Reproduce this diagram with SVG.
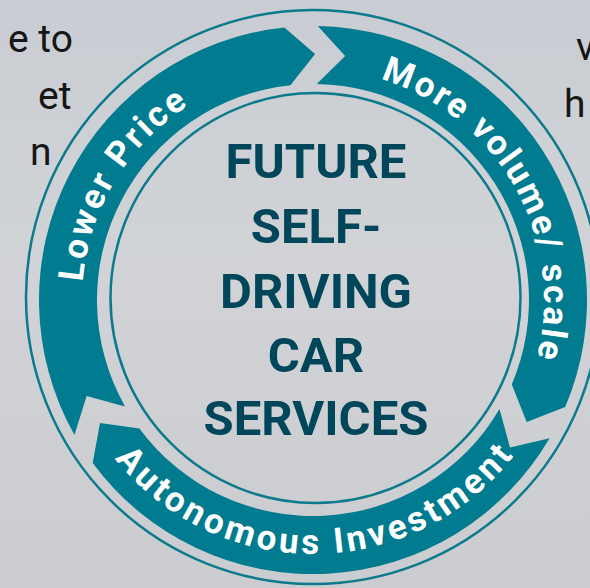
<svg xmlns="http://www.w3.org/2000/svg" width="590" height="588" viewBox="0 0 590 588">
  <defs>
    <linearGradient id="bg" x1="0" y1="0" x2="0" y2="1">
      <stop offset="0" stop-color="#c9cdd3"/>
      <stop offset="0.45" stop-color="#d1d3d6"/>
      <stop offset="1" stop-color="#cacccf"/>
    </linearGradient>
    <path id="tp-lower" d="M 82.7,281.9 A 231 231 0 0 1 253.2,76.9"/>
    <path id="tp-more" d="M 380.5,79.1 A 231 231 0 0 1 513.1,415.5"/>
    <path id="tp-auto" d="M 114.8,458.8 A 254 254 0 0 0 533,427"/>
  </defs>
  <style>
    .ring { fill: none; stroke: #0a7a8c; stroke-width: 2.5; }
    .band { fill: #007b8f; }
    .arc-label { font-family: Roboto, "Liberation Sans", sans-serif; font-weight: 700; font-size: 35px; fill: #ffffff; }
    .center-label { font-family: Roboto, "Liberation Sans", sans-serif; font-weight: 700; font-size: 49px; fill: #00465a; text-anchor: middle; }
    .side { font-family: Roboto, "Liberation Sans", sans-serif; font-weight: 400; font-size: 39px; fill: #161616; }
  </style>

  <rect width="590" height="588" fill="url(#bg)"/>

  <g id="side-text">
    <text class="side" x="8" y="52">e to</text>
    <text class="side" x="38" y="109">et</text>
    <text class="side" x="30" y="165">n</text>
    <text class="side" x="576" y="60">v</text>
    <text class="side" x="564" y="117">h</text>
  </g>

  <g id="outer-ring">
    <circle class="ring" cx="313" cy="297" r="287"/>
  </g>

  <g id="connectors">
    <g id="arrow-lower-price">
      <path class="band" d="M 74.5,434.9 A 274 274 0 0 1 284.4,27.5 L 315.1,54 L 290.4,85.2 A 216 216 0 0 0 125,406.4 L 86.6,396.1 Z"/>
      <text class="arc-label"><textPath href="#tp-lower" textLength="213" lengthAdjust="spacing">Lower Price</textPath></text>
    </g>
    <g id="arrow-more-volume">
      <path class="band" d="M 317.8,26 A 274 274 0 0 1 565.2,407.1 L 526.7,421.9 L 511.8,384.4 A 216 216 0 0 0 316.8,84 L 345.1,56.1 Z"/>
      <text class="arc-label"><textPath href="#tp-more" textLength="352" lengthAdjust="spacing">More volume/ scale</textPath></text>
    </g>
    <g id="arrow-autonomous-investment">
      <path class="band" d="M 549.6,438.2 A 274 274 0 0 1 92.7,463 L 100,423 L 139.4,428.5 A 216 216 0 0 0 499.5,409 L 510,447.4 Z"/>
      <text class="arc-label"><textPath href="#tp-auto" textLength="458" lengthAdjust="spacing">Autonomous Investment</textPath></text>
    </g>
  </g>

  <g id="center-node">
    <circle class="ring" cx="315.5" cy="298" r="205"/>
    <text class="center-label" x="316" y="178">FUTURE</text>
    <text class="center-label" x="316" y="243">SELF-</text>
    <text class="center-label" x="316" y="308">DRIVING</text>
    <text class="center-label" x="316" y="372">CAR</text>
    <text class="center-label" x="316" y="435">SERVICES</text>
  </g>
</svg>
